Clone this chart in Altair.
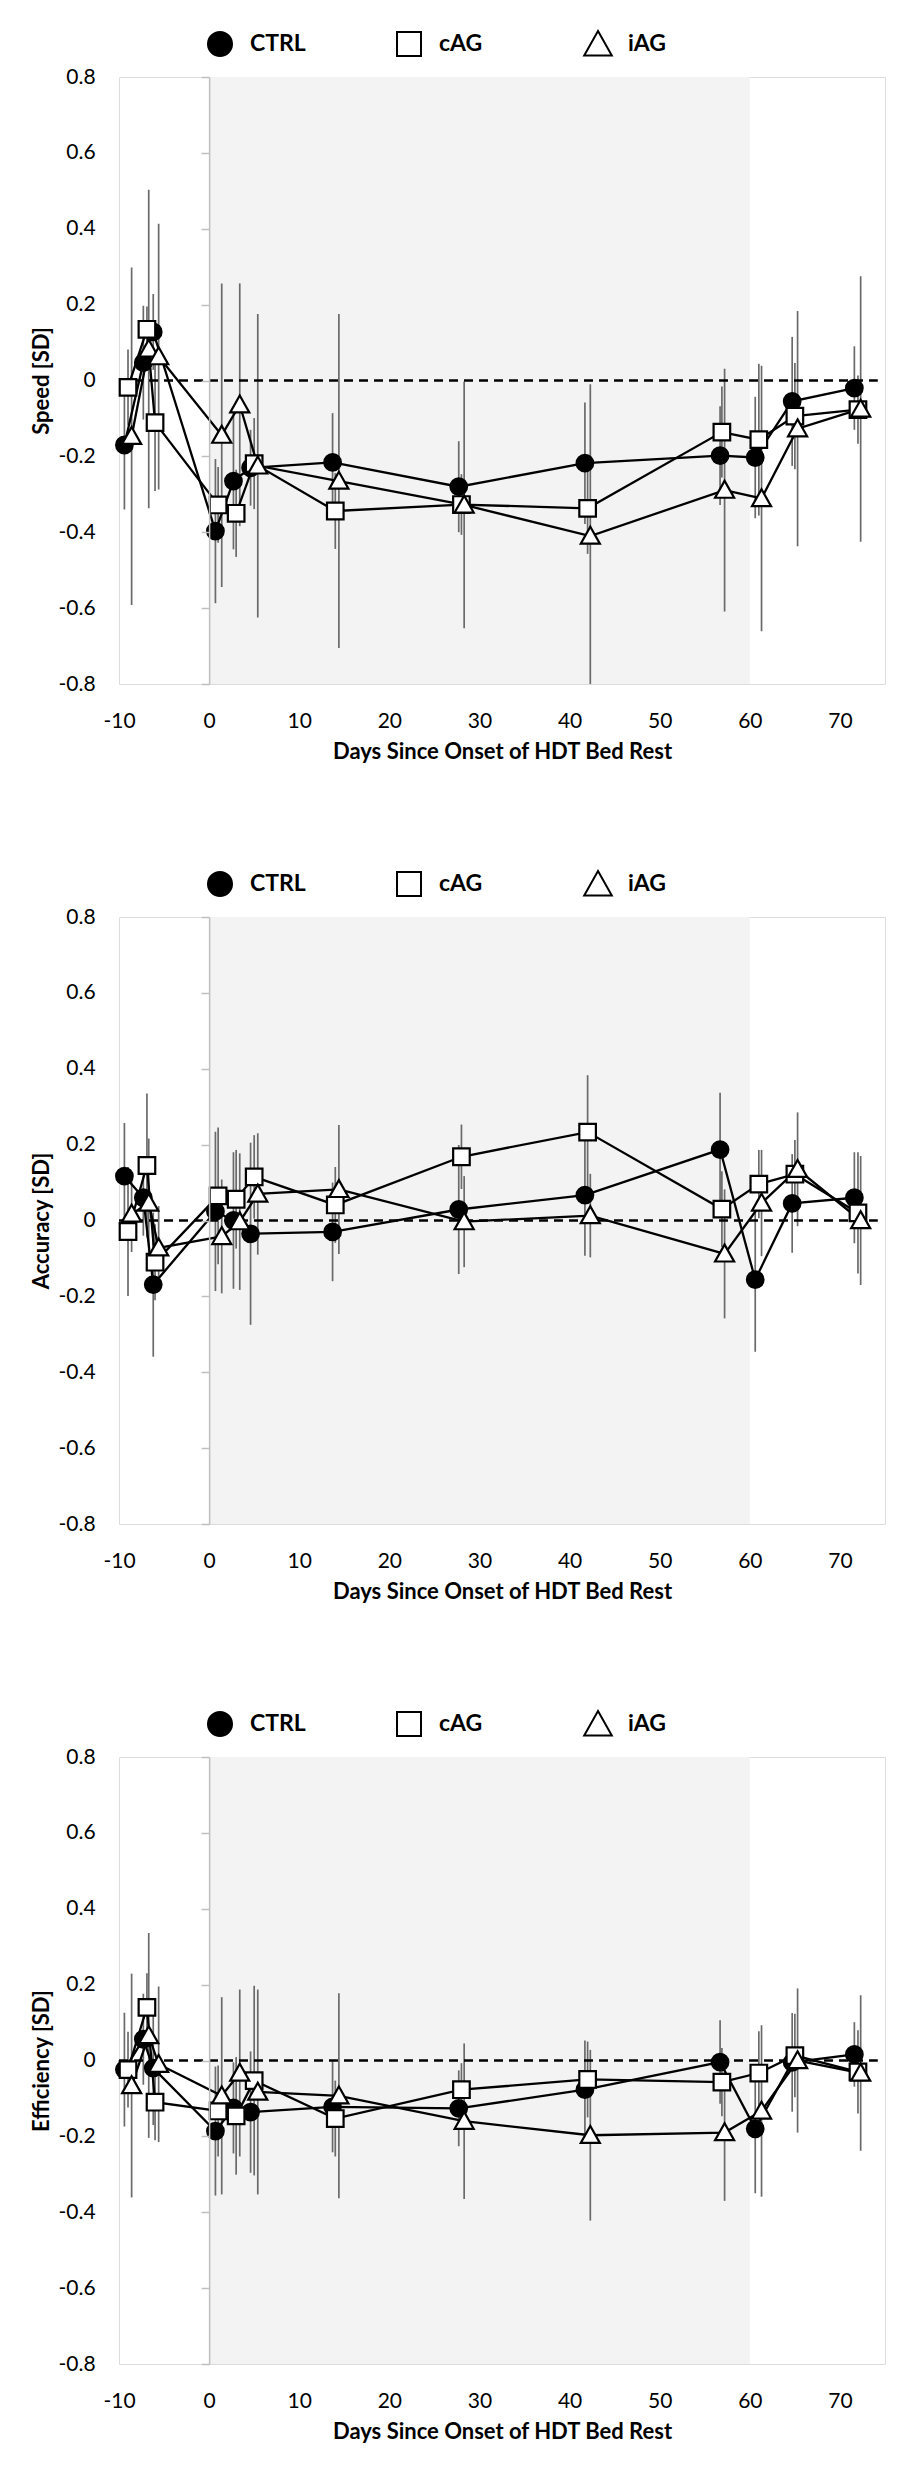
import altair as alt
import pandas as pd

GROUPS = ["CTRL", "cAG", "iAG"]

DAYS = {
    "CTRL": [-9.4, -7.3, -6.2, 0.7, 2.7, 4.6, 13.7, 27.7, 41.7, 56.7, 60.6, 64.7, 71.6],
    "cAG": [-9.0, -6.9, -6.0, 1.0, 3.0, 5.0, 14.0, 28.0, 42.0, 56.9, 61.0, 65.0, 72.0],
    "iAG": [-8.6, -6.7, -5.6, 1.4, 3.4, 5.4, 14.4, 28.3, 42.3, 57.2, 61.3, 65.3, 72.3],
}

SPEED_MEAN = {
    "CTRL": [-0.17, 0.047, 0.128, -0.397, -0.265, -0.23, -0.216, -0.28, -0.218, -0.198, -0.203, -0.055, -0.02],
    "cAG": [-0.018, 0.135, -0.111, -0.328, -0.35, -0.219, -0.344, -0.327, -0.337, -0.136, -0.156, -0.094, -0.077],
    "iAG": [-0.147, 0.083, 0.063, -0.144, -0.064, -0.225, -0.265, -0.328, -0.41, -0.289, -0.311, -0.127, -0.075],
}
SPEED_ERR = {
    "CTRL": [0.17, 0.15, 0.10, 0.19, 0.18, 0.10, 0.13, 0.12, 0.16, 0.13, 0.16, 0.17, 0.11],
    "cAG": [0.10, 0.06, 0.18, 0.10, 0.115, 0.12, 0.10, 0.08, 0.12, 0.12, 0.20, 0.14, 0.09],
    "iAG": [0.445, 0.42, 0.35, 0.40, 0.32, 0.40, 0.44, 0.325, 0.40, 0.32, 0.35, 0.31, 0.35],
}

ACC_MEAN = {
    "CTRL": [0.117, 0.06, -0.169, 0.024, 0.0, -0.035, -0.03, 0.029, 0.067, 0.187, -0.156, 0.045, 0.06],
    "cAG": [-0.029, 0.145, -0.11, 0.065, 0.056, 0.115, 0.041, 0.168, 0.233, 0.03, 0.096, 0.122, 0.02],
    "iAG": [0.017, 0.046, -0.072, -0.042, -0.003, 0.07, 0.082, -0.003, 0.013, -0.088, 0.046, 0.135, 0.0],
}
ACC_ERR = {
    "CTRL": [0.14, 0.10, 0.19, 0.21, 0.18, 0.24, 0.13, 0.17, 0.16, 0.15, 0.19, 0.13, 0.12],
    "cAG": [0.17, 0.19, 0.10, 0.18, 0.13, 0.11, 0.10, 0.085, 0.15, 0.10, 0.09, 0.09, 0.16],
    "iAG": [0.10, 0.17, 0.11, 0.15, 0.18, 0.16, 0.17, 0.12, 0.11, 0.17, 0.14, 0.15, 0.17],
}

EFF_MEAN = {
    "CTRL": [-0.024, 0.056, -0.02, -0.186, -0.125, -0.136, -0.122, -0.126, -0.077, -0.004, -0.18, -0.005, 0.016],
    "cAG": [-0.024, 0.14, -0.11, -0.133, -0.146, -0.053, -0.153, -0.077, -0.05, -0.057, -0.033, 0.013, -0.03],
    "iAG": [-0.066, 0.066, -0.01, -0.093, -0.033, -0.083, -0.093, -0.16, -0.197, -0.19, -0.133, 0.0, -0.033],
}
EFF_ERR = {
    "CTRL": [0.15, 0.12, 0.15, 0.17, 0.12, 0.16, 0.12, 0.10, 0.13, 0.11, 0.17, 0.13, 0.085],
    "cAG": [0.10, 0.09, 0.10, 0.12, 0.155, 0.25, 0.10, 0.07, 0.10, 0.09, 0.11, 0.11, 0.11],
    "iAG": [0.295, 0.27, 0.205, 0.26, 0.22, 0.27, 0.27, 0.205, 0.225, 0.18, 0.226, 0.19, 0.205],
}

PANELS = [
    ("Speed [SD]", SPEED_MEAN, SPEED_ERR),
    ("Accuracy [SD]", ACC_MEAN, ACC_ERR),
    ("Efficiency [SD]", EFF_MEAN, EFF_ERR),
]

X_TICKS = [-10, 0, 10, 20, 30, 40, 50, 60, 70]
Y_TICKS = [-0.8, -0.6, -0.4, -0.2, 0, 0.2, 0.4, 0.6, 0.8]
X_DOMAIN = [-10, 75]
Y_DOMAIN = [-0.8, 0.8]
BED_REST = [0, 60]
ZERO_SPAN = [-10, 74.2]
X_TITLE = "Days Since Onset of HDT Bed Rest"

FONT = "Lato"
PLOT_W = 766
PLOT_H = 607
AXIS_X0_OFFSET = -PLOT_W * (0 - X_DOMAIN[0]) / (X_DOMAIN[1] - X_DOMAIN[0])

SHAPES = ["circle", "square", "M0,-1.12L1.15,0.92L-1.15,0.92Z"]
FILLS = ["black", "white", "white"]
STROKES = ["black", "black", "black"]


def make_panel(ytitle, means, errs):
    rows = []
    for g in GROUPS:
        for d, m, e in zip(DAYS[g], means[g], errs[g]):
            rows.append({"group": g, "day": d, "mean": m, "lo": m - e, "hi": m + e})
    df = pd.DataFrame(rows)

    xs = alt.Scale(domain=X_DOMAIN, nice=False, zero=False)
    ys = alt.Scale(domain=Y_DOMAIN, nice=False, zero=False)
    xaxis = alt.Axis(
        values=X_TICKS, domain=False, ticks=False, tickSize=0, grid=False, labelFlush=False,
        labelFont=FONT, labelFontSize=21, labelColor="black", labelPadding=26,
        labelExpr="datum.value < 0 ? '-' + format(-datum.value, 'd') : format(datum.value, 'd')",
        title=X_TITLE, titleFont=FONT, titleFontSize=22, titleFontWeight="bold",
        titleColor="black", titlePadding=10,
    )
    yaxis = alt.Axis(
        values=Y_TICKS, offset=AXIS_X0_OFFSET, grid=False, zindex=1, labelFlush=False,
        domain=True, domainColor="#bfbfbf", domainWidth=1.5,
        ticks=True, tickColor="#bfbfbf", tickWidth=1.5, tickSize=8,
        labelFont=FONT, labelFontSize=21, labelColor="black", labelPadding=106,
        labelExpr="datum.value === 0 ? '0' : (datum.value < 0 ? '-' + format(-datum.value, '.1f') : format(datum.value, '.1f'))",
        title=ytitle, titleFont=FONT, titleFontSize=22, titleFontWeight="bold",
        titleColor="black", titlePadding=5,
    )

    band_df = pd.DataFrame({"x0": [BED_REST[0]], "x1": [BED_REST[1]],
                            "y0": [Y_DOMAIN[0]], "y1": [Y_DOMAIN[1]]})
    band = alt.Chart(band_df).mark_rect(color="#f3f3f3").encode(
        x=alt.X("x0:Q", scale=xs, axis=xaxis),
        x2="x1:Q",
        y=alt.Y("y0:Q", scale=ys, axis=yaxis),
        y2="y1:Q",
    )

    zero_df = pd.DataFrame({"x0": [ZERO_SPAN[0]], "x1": [ZERO_SPAN[1]], "y0": [0.0]})
    zero = alt.Chart(zero_df).mark_rule(color="black", strokeWidth=2.5, strokeDash=[9, 6]).encode(
        x=alt.X("x0:Q", scale=xs, axis=xaxis),
        x2="x1:Q",
        y=alt.Y("y0:Q", scale=ys, axis=yaxis),
    )

    base = alt.Chart(df)
    bars = base.mark_rule(color="#6a6a6a", strokeWidth=1.7, clip=True).encode(
        x=alt.X("day:Q", scale=xs, axis=xaxis),
        y=alt.Y("lo:Q", scale=ys, axis=yaxis),
        y2="hi:Q",
    )
    lines = base.mark_line(color="black", strokeWidth=2.3).encode(
        x=alt.X("day:Q", scale=xs, axis=xaxis),
        y=alt.Y("mean:Q", scale=ys, axis=yaxis),
        detail="group:N",
    )
    legend = alt.Legend(
        title=None, orient="none", legendX=88, legendY=-46, direction="horizontal",
        columns=3, gridAlign="all", columnPadding=85,
        symbolSize=576, symbolStrokeWidth=2, symbolStrokeColor="black", symbolOpacity=1,
        labelFont=FONT, labelFontSize=23, labelFontWeight="bold", labelColor="black",
        labelOffset=17,
    )
    points = base.mark_point(filled=True, strokeWidth=2.2, size=275, opacity=1).encode(
        x=alt.X("day:Q", scale=xs, axis=xaxis),
        y=alt.Y("mean:Q", scale=ys, axis=yaxis),
        shape=alt.Shape("group:N", scale=alt.Scale(domain=GROUPS, range=SHAPES), legend=legend, title=None),
        fill=alt.Fill("group:N", scale=alt.Scale(domain=GROUPS, range=FILLS), legend=legend, title=None),
        stroke=alt.Stroke("group:N", scale=alt.Scale(domain=GROUPS, range=STROKES), legend=legend, title=None),
        order=alt.Order("gid:Q"),
    ).transform_calculate(gid="indexof(['CTRL','cAG','iAG'], datum.group)")

    return alt.layer(band, bars, zero, lines, points).properties(width=PLOT_W, height=PLOT_H)


panels = [make_panel(t, m, e) for t, m, e in PANELS]

chart = alt.vconcat(*panels, spacing=107).resolve_scale(
    x="independent", y="independent", shape="independent", fill="independent", stroke="independent"
).resolve_legend(shape="independent", fill="independent", stroke="independent").properties(
    padding={"left": 21, "top": 22, "right": 5, "bottom": 5}
).configure_view(stroke=None).configure(background="white")

chart.save("out.html", embed_options={"renderer": "svg", "actions": False})
